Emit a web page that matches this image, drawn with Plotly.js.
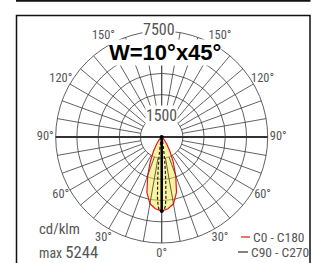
<!DOCTYPE html>
<html><head><meta charset="utf-8">
<script src="https://cdn.plot.ly/plotly-3.0.1.min.js"></script>
<style>html,body{margin:0;padding:0;background:#fff}#chart{width:319px;height:263px}</style>
</head><body><div id="chart"></div>
<script>
// Gamma angles (deg from nadir) and intensities (cd/klm), symmetric planes
const wideAngles = [0,5,10,15,20,25,30,35,40,45,50,55,60,70,80,90];
const c0c180 = [5244,5100,4800,4050,2900,1900,1150,650,330,150,60,25,10,0,0,0];
const narrowAngles = [0,2,3,4,5,6,7,8,10,12,15,20,30,45,90];
const c90c270 = [5244,5150,4900,4300,3300,2500,1800,1200,600,300,150,60,20,0,0];
const radialTicks = [1500,3000,4500,6000,7500];
const radialMax = 7500;
const angTickVals = [0,30,60,90,120,150,210,240,270,300,330];
const angTickText = ['0°','30°','60°','90°','120°','150°','150°','120°','90°','60°','30°'];
const maxValue = 5244;
const legendNames = ['C0 - C180','C90 - C270'];

const ctx = document.createElement('canvas').getContext('2d');
function hasFont(name){
  const s='C0 - C180 W=10 cd/klm 7500 max';
  let diff=false;
  ['monospace','serif'].forEach(g=>{
    ctx.font='40px '+g; const a=ctx.measureText(s).width;
    ctx.font='40px "'+name+'", '+g; const b=ctx.measureText(s).width;
    if(Math.abs(a-b)>0.5) diff=true;
  });
  return diff;
}
const candidates=['Liberation Sans Narrow','Noto Sans Condensed','Roboto Condensed','Open Sans Condensed','Arial Narrow','Liberation Sans'];
let fam='Liberation Sans';
for(const c of candidates){ if(hasFont(c)){fam=c;break;} }
const FAM='"'+fam+'", "Liberation Sans", Arial, sans-serif';
function fit(text, nominal, targetW){
  ctx.font=nominal+'px '+FAM;
  const w=ctx.measureText(text).width;
  return Math.round(nominal*Math.min(1, targetW/w)*10)/10;
}

function mirror(angles, vals){
  const th=[], r=[];
  for(let i=angles.length-1;i>=0;i--){th.push(360-angles[i]); r.push(vals[i]);}
  for(let i=1;i<angles.length;i++){th.push(angles[i]); r.push(vals[i]);}
  return {th, r};
}
const wide = mirror(wideAngles, c0c180);
const narrow = mirror(narrowAngles, c90c270);

const spR=[], spT=[];
for(let a=0;a<=180;a+=10){
  if(a===90) continue;
  [a, 360-a].forEach(t=>{spR.push(radialTicks[0], radialMax, null); spT.push(t,t,null);});
}
const gridColor = '#3a3a3a';
const grey='#555';
const tickSize = fit('120°', 13, 23);
const outerPx = 106, labelPx = 116.5;          // ring radius and label radius in pixels
const labelR = radialMax*labelPx/outerPx;     // radial value at which angle labels sit
const traces = [
  {type:'scatterpolar', r:wide.r, theta:wide.th, mode:'lines', fill:'toself',
   fillcolor:'rgba(245,231,65,0.5)', line:{color:'#e8151b', width:1.2}, hoverinfo:'skip'},
  {type:'scatterpolar', r:spR, theta:spT, mode:'lines', line:{color:gridColor, width:0.8}, hoverinfo:'skip', connectgaps:false},
  {type:'scatterpolar', r:[radialMax,0,radialMax], theta:[90,90,270], mode:'lines', line:{color:'#333', width:2}, hoverinfo:'skip'},
  {type:'scatterpolar', r:narrow.r, theta:narrow.th, mode:'lines', line:{color:'#222', width:1.2, dash:'3px,2px'}, hoverinfo:'skip'},
  {type:'scatterpolar', r:[0, maxValue], theta:[0,0], mode:'lines+markers', line:{color:'#000', width:2.5},
   marker:{size:4, color:'#000'}, hoverinfo:'skip'},
  {type:'scatterpolar', r:angTickVals.map(()=>labelR), theta:angTickVals, mode:'text', text:angTickText,
   textposition:'middle center', textfont:{family:FAM, size:tickSize, color:grey}, cliponaxis:false, hoverinfo:'skip'}
];
const W=319,H=263;
const px=(x)=>x/W, py=(y)=>1-y/H;
const cx=161.7, cy=137;
const s7500 = fit('7500', 16, 33);
const s1500 = fit('1500', 16, 31);
const sCd = fit('cd/klm', 15.5, 41);
const sMax = fit('max', 14.5, 23);
const s5244 = fit(String(maxValue), 19.5, 33);
const sLeg = Math.min(fit(legendNames[0], 15, 54), fit(legendNames[1], 15, 58));
function ann(x,y,text,size,extra){
  return Object.assign({xref:'paper', yref:'paper', x:px(x), y:py(y), xanchor:'center', yanchor:'middle',
    text:text, showarrow:false, font:{family:FAM, size:size, color:grey}}, extra||{});
}
const layout = {
  width:W, height:H, margin:{l:0,r:0,t:0,b:0}, showlegend:false,
  paper_bgcolor:'#fff',
  font:{family:FAM, color:grey},
  polar:{
    domain:{x:[(cx-labelPx)/W,(cx+labelPx)/W], y:[1-(cy+labelPx)/H, 1-(cy-labelPx)/H]},
    bgcolor:'rgba(0,0,0,0)',
    radialaxis:{range:[0,labelR], tickvals:radialTicks, showticklabels:false, ticks:'', showline:false,
      gridcolor:gridColor, gridwidth:0.8},
    angularaxis:{rotation:270, direction:'counterclockwise', showticklabels:false,
      showgrid:false, ticks:'', showline:false}
  },
  shapes:[
    {type:'rect', xref:'paper', yref:'paper', x0:px(16.5), x1:px(310), y0:-0.1, y1:py(15.5), line:{color:'#111', width:1.5}},
    {type:'line', xref:'paper', yref:'paper', x0:px(16), x1:px(310.5), y0:py(0.8), y1:py(0.8), line:{color:'#111', width:2}},
    {type:'line', xref:'paper', yref:'paper', x0:px(241), x1:px(250), y0:py(237), y1:py(237), line:{color:'#e8151b', width:1.2}},
    {type:'line', xref:'paper', yref:'paper', x0:px(238), x1:px(248), y0:py(252), y1:py(252), line:{color:'#333', width:1.2}}
  ],
  annotations:[
    ann(165,52,'<b>W=10°x45°</b>',22,{font:{family:'"Liberation Sans", Arial', size:22, color:'#000'}, bgcolor:'#fff', borderpad:0}),
    ann(159,30,String(radialMax),s7500,{bgcolor:'#fff', borderpad:0}),
    ann(161,115,String(radialTicks[0]),s1500,{bgcolor:'#fff', borderpad:0}),
    ann(37,229,'cd/klm',sCd,{xanchor:'left'}),
    ann(37,252.5,'max <span style="font-size:'+s5244+'px">'+maxValue+'</span>',sMax,{xanchor:'left'}),
    ann(251,237,legendNames[0],sLeg,{xanchor:'left'}),
    ann(249,252,legendNames[1],sLeg,{xanchor:'left'})
  ]
};
Plotly.newPlot('chart', traces, layout, {staticPlot:true, displayModeBar:false});
</script></body></html>
